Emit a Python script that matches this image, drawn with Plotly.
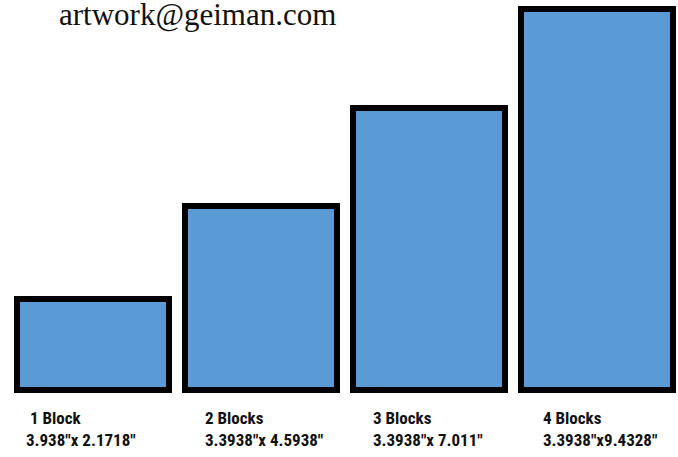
import plotly.graph_objects as go

# Data
block_names = ["1 Block", "2 Blocks", "3 Blocks", "4 Blocks"]
block_sizes = ['3.938"x 2.1718"', '3.3938"x 4.5938"', '3.3938"x 7.011"', '3.3938"x9.4328"']
block_heights = [91, 184, 282, 381]  # drawn height of each block (pixel-like units)
block_index = [0, 1, 2, 3]
label_left_px = [25, 204, 372, 542]  # left edge of each label
contact_text = "artwork@geiman.com"

fill_color = "#5B9BD5"
edge_color = "#000000"

W, H = 678, 457
B = 61
plot_h = H - B

fig = go.Figure()
fig.add_trace(go.Bar(
    x=block_index,
    y=block_heights,
    width=0.899,
    marker=dict(color=fill_color, line=dict(color=edge_color, width=6)),
    hoverinfo="skip",
    showlegend=False,
))

def py(pix):
    # pixel row -> paper y
    return (plot_h - pix) / plot_h

label_font = "Noto Sans ExtraCondensed, Noto Sans Condensed, Roboto Condensed, Roboto, sans-serif"
for name, size, lx in zip(block_names, block_sizes, label_left_px):
    fig.add_annotation(x=lx / W, y=py(429), xref="paper", yref="paper",
                       text=(" " if lx == 25 else "") + name + "<br>" + size,
                       showarrow=False, xanchor="left", yanchor="middle", align="left",
                       borderpad=0,
                       font=dict(family=label_font, size=17, color="#111111", weight="bold"))

fig.add_annotation(x=57 / W, y=1, xref="paper", yref="paper", text=contact_text,
                   showarrow=False, xanchor="left", yanchor="top", yshift=5,
                   font=dict(family="Liberation Serif, Times New Roman, serif", size=31, color="#111111"))

span = W / 168
xmin = -93 / 168
fig.update_layout(
    width=W, height=H,
    margin=dict(l=0, r=0, t=0, b=B),
    paper_bgcolor="white", plot_bgcolor="white",
    xaxis=dict(range=[xmin, xmin + span], visible=False, fixedrange=True),
    yaxis=dict(range=[-6, 390], visible=False, fixedrange=True),
    bargap=0,
)

fig.write_html("out.html", config={"displayModeBar": False},
               post_script="document.body.style.margin='0';")
